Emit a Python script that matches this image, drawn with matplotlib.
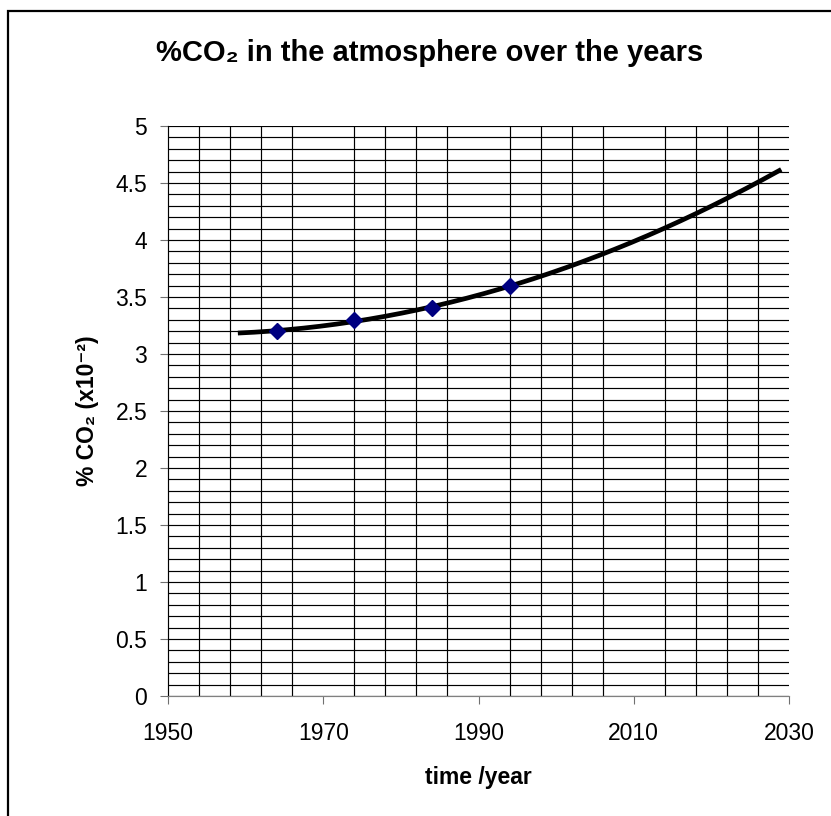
import numpy as np
import matplotlib
matplotlib.use("Agg")
import matplotlib.pyplot as plt
from matplotlib.patches import Rectangle
from matplotlib.ticker import FixedLocator, MultipleLocator

plt.rcParams['font.family'] = ['Liberation Sans', 'DejaVu Sans']

# data
years = [1964, 1974, 1984, 1994]
co2 = [3.2, 3.3, 3.4, 3.6]
x_ticks = [1950, 1970, 1990, 2010, 2030]
y_ticks = [0, 0.5, 1, 1.5, 2, 2.5, 3, 3.5, 4, 4.5, 5]
trend_start, trend_end = 1959, 2029

W, H = 831, 816
fig = plt.figure(figsize=(W / 100, H / 100), dpi=100)
ax = fig.add_axes([168 / W, 1 - 696 / H, (789 - 168) / W, (696 - 126) / H])

# grid
ax.set_xlim(1950, 2030)
ax.set_ylim(0, 5)
ax.xaxis.set_minor_locator(FixedLocator(np.arange(1954, 2031, 4)))
ax.yaxis.set_minor_locator(MultipleLocator(0.1))
ax.set_xticks(x_ticks)
ax.set_yticks(y_ticks)
ax.set_yticklabels([f"{v:g}" for v in y_ticks])
ax.grid(which='minor', color='black', lw=0.85)
ax.grid(which='major', axis='y', color='black', lw=0.85)
ax.set_axisbelow(True)
ax.tick_params(which='minor', length=0)
ax.tick_params(which='major', direction='out', length=6, width=0.8,
               color='#707070', labelsize=16.5)
ax.tick_params(axis='y', pad=9)
ax.tick_params(axis='x', pad=13)
for s in ['top', 'right']:
    ax.spines[s].set_visible(False)
ax.spines['left'].set_color('black')
ax.spines['bottom'].set_color('#808080')
ax.spines['left'].set_linewidth(0.85)
ax.spines['bottom'].set_linewidth(0.85)

# trendline (2nd order polynomial fit, as in the original chart)
coef = np.polyfit(np.array(years) - 1979, co2, 2)
tx = np.linspace(trend_start, trend_end, 200)
ax.plot(tx, np.polyval(coef, tx - 1979), color='black', lw=3.4, zorder=3,
        solid_capstyle='butt')
ax.plot(years, co2, linestyle='none', marker='D', markersize=8,
        color='#000080', zorder=4)

ax.set_xlabel('time /year', fontsize=16.5, fontweight='bold', labelpad=15)
ax.set_ylabel('% CO\u2082 (x10\u207b\u00b2)', fontsize=16.5, fontweight='bold',
              labelpad=12)

fig.text(430 / W, 1 - 53 / H, '%CO\u2082 in the atmosphere over the years',
         ha='center', va='center', fontsize=21, fontweight='bold')

fig.patches.append(Rectangle((8 / W, -0.1), 1.2, (1 - 11 / H) + 0.1,
                             transform=fig.transFigure, fill=False,
                             lw=1.6, edgecolor='black'))

fig.savefig('out.png', dpi=100, facecolor='white')
